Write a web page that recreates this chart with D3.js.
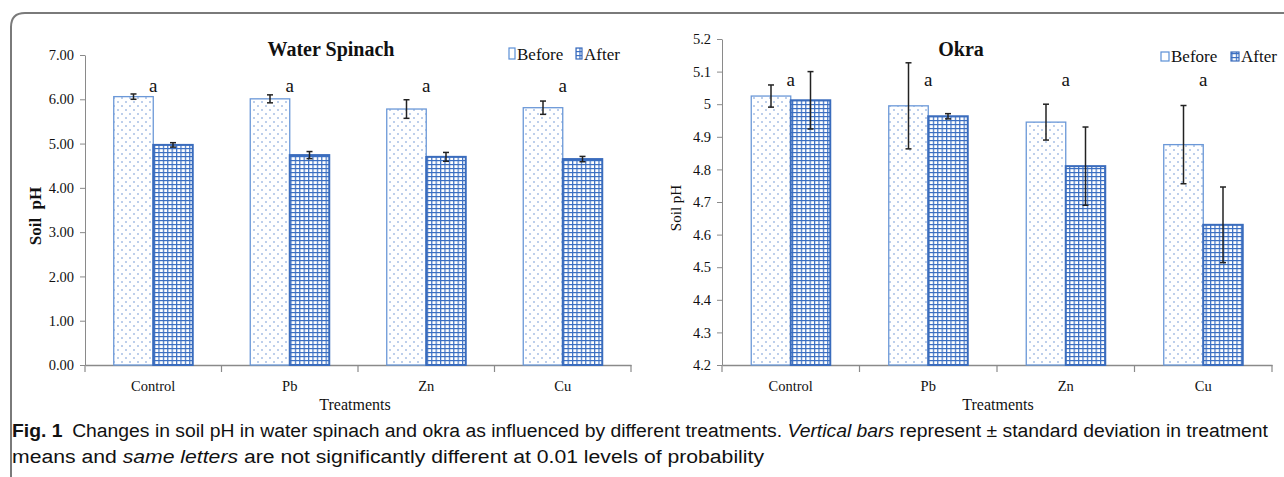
<!DOCTYPE html>
<html>
<head>
<meta charset="utf-8">
<script src="https://cdn.jsdelivr.net/npm/d3@7"></script>
<style>
  body { margin: 0; background: #fff; }
  text { font-family: "Liberation Serif", "Times New Roman", serif; fill: #111; }
</style>
</head>
<body>
<script>
// soil pH figure, two panels side by side

var treatments = ['Control', 'Pb', 'Zn', 'Cu'];
var seriesNames = ['Before', 'After'];

var spinachBefore = [6.06, 6.01, 5.78, 5.81];
var spinachBeforeSd = [0.06, 0.09, 0.21, 0.15];
var spinachAfter = [4.97, 4.74, 4.70, 4.65];
var spinachAfterSd = [0.05, 0.08, 0.10, 0.06];
var spinachTicks = [0, 1, 2, 3, 4, 5, 6, 7];

var okraBefore = [5.025, 4.995, 4.945, 4.876];
var okraBeforeSd = [0.034, 0.132, 0.055, 0.12];
var okraAfter = [5.012, 4.963, 4.81, 4.63];
var okraAfterSd = [0.088, 0.008, 0.12, 0.116];
var okraTicks = [4.2, 4.3, 4.4, 4.5, 4.6, 4.7, 4.8, 4.9, 5.0, 5.1, 5.2];

var letters = ['a', 'a', 'a', 'a'];

var W = 1284, H = 477;
var svg = d3.select('body').append('svg').attr('width', W).attr('height', H);
svg.append('rect').attr('width', W).attr('height', H).attr('fill', '#fff');

// fill patterns
var defs = svg.append('defs');
var dots = defs.append('pattern').attr('id', 'dots').attr('patternUnits', 'userSpaceOnUse')
  .attr('width', 8).attr('height', 8);
dots.append('rect').attr('width', 8).attr('height', 8).attr('fill', '#fff');
dots.append('circle').attr('cx', 2).attr('cy', 2).attr('r', 0.8).attr('fill', '#6a93d2');
dots.append('circle').attr('cx', 6).attr('cy', 6).attr('r', 0.8).attr('fill', '#6a93d2');

var grid = defs.append('pattern').attr('id', 'grid').attr('patternUnits', 'userSpaceOnUse')
  .attr('width', 4.4).attr('height', 4);
grid.append('rect').attr('width', 4.4).attr('height', 4).attr('fill', '#fff');
grid.append('line').attr('x1', 0.6).attr('x2', 0.6).attr('y1', 0).attr('y2', 4).attr('stroke', '#3b6fc2').attr('stroke-width', 1.2);
grid.append('line').attr('x1', 0).attr('x2', 4.4).attr('y1', 0.6).attr('y2', 0.6).attr('stroke', '#3b6fc2').attr('stroke-width', 1.2);

// outer frame of the figure
svg.append('path')
  .attr('d', 'M11,' + (H + 10) + ' L11,27 Q11,13 25,13 L' + (W + 10) + ',13')
  .attr('fill', 'none').attr('stroke', '#7a7a7a').attr('stroke-width', 2);

var drawPanel = function(cfg) {
  var g = svg.append('g');
  var y = d3.scaleLinear().domain(cfg.domain).range([365, cfg.top]);
  var x = d3.scaleBand().domain(treatments).range([cfg.x0, cfg.x1]);
  var inner = d3.scaleBand().domain(seriesNames).range([x.bandwidth() / 2 - 39.5, x.bandwidth() / 2 + 39.5]);

  // y axis
  var yAxis = g.append('g').attr('transform', 'translate(' + cfg.x0 + ',0)')
    .call(d3.axisLeft(y).tickValues(cfg.ticks).tickSize(5).tickSizeOuter(0).tickFormat(cfg.fmt));
  yAxis.select('.domain').attr('stroke', '#8a8a8a');
  yAxis.selectAll('.tick line').attr('stroke', '#8a8a8a');
  yAxis.selectAll('.tick text').attr('font-family', 'Liberation Serif').attr('font-size', 14.5).attr('fill', '#111').attr('dx', -3);

  // x axis: labels in bands, ticks on band edges
  var xAxis = g.append('g').attr('transform', 'translate(0,365)')
    .call(d3.axisBottom(x).tickSize(0).tickPadding(16));
  xAxis.select('.domain').attr('stroke', '#8a8a8a').attr('stroke-width', 1.5);
  xAxis.selectAll('.tick text').attr('font-family', 'Liberation Serif').attr('font-size', 14.5).attr('fill', '#111');
  var edges = treatments.map(function(t) { return x(t); }).concat([cfg.x1]);
  g.selectAll('.edge').data(edges).enter().append('line')
    .attr('x1', function(d) { return d; }).attr('x2', function(d) { return d; })
    .attr('y1', 365).attr('y2', 372).attr('stroke', '#8a8a8a').attr('stroke-width', 1.2);

  var rows = [];
  treatments.forEach(function(t, i) {
    rows.push({ t: t, s: 'Before', v: cfg.before[i], sd: cfg.beforeSd[i] });
    rows.push({ t: t, s: 'After', v: cfg.after[i], sd: cfg.afterSd[i] });
  });

  g.selectAll('.bar').data(rows).enter().append('rect')
    .attr('x', function(d) { return x(d.t) + inner(d.s); })
    .attr('y', function(d) { return y(d.v); })
    .attr('width', inner.bandwidth())
    .attr('height', function(d) { return 365 - y(d.v); })
    .attr('fill', function(d) { return d.s == 'Before' ? 'url(#dots)' : 'url(#grid)'; })
    .attr('stroke', function(d) { return d.s == 'Before' ? '#6b98d8' : '#3a6cbd'; })
    .attr('stroke-width', function(d) { return d.s == 'Before' ? 1.3 : 2; });

  // error bars
  var eb = g.selectAll('.err').data(rows).enter().append('g')
    .attr('transform', function(d) { return 'translate(' + (x(d.t) + inner(d.s) + inner.bandwidth() / 2) + ',0)'; });
  eb.append('line').attr('y1', function(d) { return y(d.v + d.sd); }).attr('y2', function(d) { return y(d.v - d.sd); })
    .attr('stroke', '#222').attr('stroke-width', 1.5);
  eb.append('line').attr('x1', -3).attr('x2', 3).attr('y1', function(d) { return y(d.v + d.sd); }).attr('y2', function(d) { return y(d.v + d.sd); })
    .attr('stroke', '#222').attr('stroke-width', 1.5);
  eb.append('line').attr('x1', -3).attr('x2', 3).attr('y1', function(d) { return y(d.v - d.sd); }).attr('y2', function(d) { return y(d.v - d.sd); })
    .attr('stroke', '#222').attr('stroke-width', 1.5);

  // significance letters
  g.selectAll('.letter').data(treatments).enter().append('text')
    .attr('x', function(d) { return x(d) + x.bandwidth() / 2; })
    .attr('y', cfg.letterY).attr('text-anchor', 'middle')
    .attr('font-size', 19)
    .text(function(d, i) { return letters[i]; });

  // title
  g.append('text').attr('x', cfg.titleX).attr('y', 56).attr('text-anchor', 'middle')
    .attr('font-size', 20).attr('font-weight', 'bold').text(cfg.title);

  // axis titles
  g.append('text').attr('transform', 'translate(' + cfg.ylabX + ',' + cfg.ylabY + ') rotate(-90)')
    .attr('text-anchor', 'middle').attr('font-size', cfg.ylabSize).attr('font-weight', cfg.ylabWeight).text(cfg.ylab);
  g.append('text').attr('x', cfg.xlabX).attr('y', 410).attr('text-anchor', 'middle')
    .attr('font-size', 16).text('Treatments');

  // legend
  var lg = g.append('g').attr('transform', 'translate(' + cfg.legX + ',' + cfg.legY + ')');
  lg.append('rect').attr('x', 0).attr('y', -cfg.boxH).attr('width', cfg.boxW).attr('height', cfg.boxH)
    .attr('fill', '#fff').attr('stroke', '#5b8fd6').attr('stroke-width', 1.2);
  lg.append('text').attr('x', cfg.boxW + 2).attr('y', 1).attr('font-size', 17).text('Before');
  lg.append('rect').attr('x', cfg.afterX).attr('y', -cfg.boxH).attr('width', cfg.boxW).attr('height', cfg.boxH)
    .attr('fill', 'url(#grid)').attr('stroke', '#3a6cbd').attr('stroke-width', 1.2);
  lg.append('text').attr('x', cfg.afterX + cfg.boxW + 2).attr('y', 1).attr('font-size', 17).text('After');
};

drawPanel({
  domain: [0, 7], top: 55, x0: 85, x1: 631, ticks: spinachTicks, fmt: d3.format('.2f'),
  before: spinachBefore, beforeSd: spinachBeforeSd, after: spinachAfter, afterSd: spinachAfterSd,
  letterY: 92, title: 'Water Spinach', titleX: 331,
  ylab: 'Soil\u00a0\u00a0pH', ylabX: 41, ylabY: 216, ylabSize: 17, ylabWeight: 'bold', xlabX: 355,
  legX: 509, legY: 59, boxW: 6, boxH: 11, afterX: 67
});

drawPanel({
  domain: [4.2, 5.2], top: 39, x0: 722, x1: 1272, ticks: okraTicks, fmt: function(d) { return String(+d.toFixed(1)); },
  before: okraBefore, beforeSd: okraBeforeSd, after: okraAfter, afterSd: okraAfterSd,
  letterY: 86, title: 'Okra', titleX: 961,
  ylab: 'Soil pH', ylabX: 681, ylabY: 208, ylabSize: 15, ylabWeight: 'normal', xlabX: 998,
  legX: 1161, legY: 61, boxW: 8, boxH: 9, afterX: 70
});

// caption, squeezed to the widths of the printed lines
var capFont = '"Liberation Sans", "DejaVu Sans", sans-serif';
var cap = svg.append('text').attr('x', 12).attr('y', 437)
  .style('font-family', capFont).attr('font-size', 18)
  .attr('textLength', 1256).attr('lengthAdjust', 'spacingAndGlyphs');
cap.append('tspan').attr('font-weight', 'bold').text('Fig. 1');
cap.append('tspan').text('\u2002Changes in soil pH in water spinach and okra as influenced by different treatments. ');
cap.append('tspan').attr('font-style', 'italic').text('Vertical bars');
cap.append('tspan').text(' represent \u00b1 standard deviation in treatment');
var cap2 = svg.append('text').attr('x', 12).attr('y', 463)
  .style('font-family', capFont).attr('font-size', 18)
  .attr('textLength', 752).attr('lengthAdjust', 'spacingAndGlyphs');
cap2.append('tspan').text('means and ');
cap2.append('tspan').attr('font-style', 'italic').text('same letters');
cap2.append('tspan').text(' are not significantly different at 0.01 levels of probability');
</script>
</body>
</html>
